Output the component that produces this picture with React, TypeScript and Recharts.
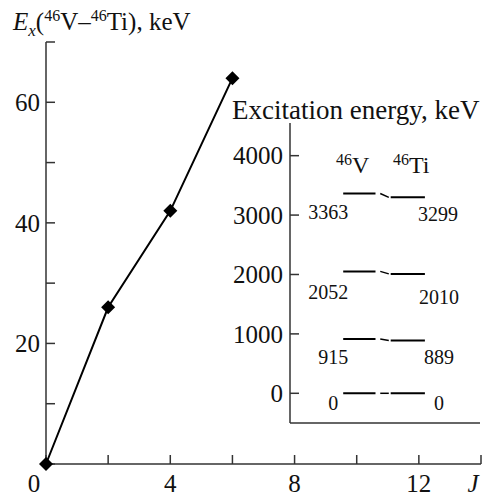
import React from "react";
import { LineChart, Line, XAxis, YAxis } from "recharts";

// spin J and the 46V - 46Ti energy difference (keV)
const spins = [0, 2, 4, 6];
const deltaE = [0, 26, 42, 64];

// excitation energies of the analogue levels (keV)
const levelsV = [0, 915, 2052, 3363];
const levelsTi = [0, 889, 2010, 3299];

const xTicks = [0, 2, 4, 6, 8, 10, 12, 14];
const yTicks = [0, 10, 20, 30, 40, 50, 60, 70];
const insetTicks = [0, 1000, 2000, 3000, 4000];

const FONT = "'Liberation Serif', 'Times New Roman', serif";
const AXIS = "#333";
const txt = { fontFamily: FONT, fill: "#111" };

const mainData = spins.map((j, i) => ({ j, e: deltaE[i] }));

// horizontal placement of the level bars in inset x units
const V_SPAN = [2.8, 4.5];
const LINK_SPAN = [4.75, 5.2];
const TI_SPAN = [5.3, 7.1];
// label offsets under each level (px)
const V_LABEL_DX = [-10, -10, -15, -15];
const V_LABEL_DY = [10, 18, 21, 18];
const TI_LABEL_DX = [14, 14, 14, 13];
const TI_LABEL_DY = [10, 17, 23, 17];

const renderJTick = (props: any) => {
  const { x, y, payload } = props;
  const v = payload.value;
  if (v === 14) {
    return (
      <text x={x - 8} y={y} dy="0.71em" textAnchor="middle" fontSize={25} fontStyle="italic" style={txt}>
        J
      </text>
    );
  }
  if (v % 4 !== 0) return <g />;
  return (
    <text x={v === 0 ? x - 12 : x} y={y} dy="0.71em" textAnchor="middle" fontSize={25} style={txt}>
      {v}
    </text>
  );
};

const renderETick = (props: any) => {
  const { x, y, payload } = props;
  const v = payload.value;
  if (v === 0 || v % 20 !== 0) return <g />;
  return (
    <text x={x} y={y} dy="0.35em" textAnchor="end" fontSize={25} style={txt}>
      {v}
    </text>
  );
};

const renderInsetTick = (props: any) => {
  const { x, y, payload } = props;
  return (
    <text x={x} y={y} dy="0.35em" textAnchor="end" fontSize={25} style={txt}>
      {payload.value}
    </text>
  );
};

const renderDiamond = (props: any) => {
  const { cx, cy, index } = props;
  const r = 7;
  return (
    <path
      key={`d${index}`}
      d={`M${cx},${cy - r}L${cx + r},${cy}L${cx},${cy + r}L${cx - r},${cy}Z`}
      fill="#000"
    />
  );
};

const levelLabel = (which: "v" | "ti", level: number) => (props: any) => {
  const { x, y, index, value } = props;
  const first = which === "v";
  if ((first && index !== 0) || (!first && index !== 1)) return <g />;
  const dx = first ? V_LABEL_DX[level] : TI_LABEL_DX[level];
  const dy = first ? V_LABEL_DY[level] : TI_LABEL_DY[level];
  return (
    <text x={x + dx} y={y + dy} dy="0.35em" textAnchor="middle" fontSize={20} style={txt}>
      {value}
    </text>
  );
};

export default function App() {
  return (
    <div style={{ position: "absolute", left: 0, top: 0, width: 486, height: 497, background: "#fff", fontFamily: FONT }}>
      <div style={{ position: "absolute", left: 0, top: 0 }}>
        <LineChart width={486} height={497} data={mainData} margin={{ top: 42, right: 5, bottom: 3, left: 6 }}>
          <XAxis
            dataKey="j"
            type="number"
            domain={[0, 14]}
            ticks={xTicks}
            interval={0}
            height={30}
            tickSize={-9}
            tickMargin={19}
            axisLine={{ stroke: AXIS, strokeWidth: 1.5 }}
            tickLine={{ stroke: AXIS, strokeWidth: 1.5 }}
            tick={renderJTick}
          />
          <YAxis
            type="number"
            domain={[0, 70]}
            ticks={yTicks}
            interval={0}
            width={40}
            tickSize={-9}
            tickMargin={15}
            axisLine={{ stroke: AXIS, strokeWidth: 1.5 }}
            tickLine={{ stroke: AXIS, strokeWidth: 1.5 }}
            tick={renderETick}
          />
          <Line
            dataKey="e"
            type="linear"
            stroke="#000"
            strokeWidth={2}
            dot={renderDiamond}
            activeDot={false}
            isAnimationActive={false}
          />
          <text x={13} y={30} fontSize={25} style={txt}>
            <tspan fontStyle="italic">E</tspan>
            <tspan fontStyle="italic" fontSize={17} dy={6}>x</tspan>
            <tspan dy={-6}>(</tspan>
            <tspan fontSize={16} dy={-9}>46</tspan>
            <tspan dy={9}>V–</tspan>
            <tspan fontSize={16} dy={-9}>46</tspan>
            <tspan dy={9}>Ti), keV</tspan>
          </text>
        </LineChart>
      </div>
      <div style={{ position: "absolute", left: 0, top: 0 }}>
        <LineChart width={486} height={497} margin={{ top: 123, right: 6, bottom: 44, left: 230 }}>
          <XAxis
            dataKey="x"
            type="number"
            domain={[0, 10]}
            height={30}
            tick={false}
            tickLine={false}
            axisLine={{ stroke: AXIS, strokeWidth: 1.5 }}
          />
          <YAxis
            type="number"
            domain={[-500, 4550]}
            ticks={insetTicks}
            interval={0}
            width={60}
            tickSize={-9}
            tickMargin={16}
            axisLine={{ stroke: AXIS, strokeWidth: 1.5 }}
            tickLine={{ stroke: AXIS, strokeWidth: 1.5 }}
            tick={renderInsetTick}
          />
          {levelsV.map((ev, i) => {
            const et = levelsTi[i];
            return (
              <React.Fragment key={`lvl${i}`}>
                <Line
                  data={[{ x: V_SPAN[0], y: ev }, { x: V_SPAN[1], y: ev }]}
                  dataKey="y"
                  stroke="#000"
                  strokeWidth={2}
                  dot={false}
                  activeDot={false}
                  label={levelLabel("v", i)}
                  isAnimationActive={false}
                />
                <Line
                  data={[{ x: LINK_SPAN[0], y: ev }, { x: LINK_SPAN[1], y: et }]}
                  dataKey="y"
                  stroke="#000"
                  strokeWidth={1.5}
                  dot={false}
                  activeDot={false}
                  isAnimationActive={false}
                />
                <Line
                  data={[{ x: TI_SPAN[0], y: et }, { x: TI_SPAN[1], y: et }]}
                  dataKey="y"
                  stroke="#000"
                  strokeWidth={2}
                  dot={false}
                  activeDot={false}
                  label={levelLabel("ti", i)}
                  isAnimationActive={false}
                />
              </React.Fragment>
            );
          })}
          <text x={232} y={119} fontSize={27} style={txt}>
            Excitation energy, keV
          </text>
          <text x={336} y={173} fontSize={24} style={txt}>
            <tspan fontSize={16} dy={-8}>46</tspan>
            <tspan dy={8}>V</tspan>
          </text>
          <text x={393} y={173} fontSize={24} style={txt}>
            <tspan fontSize={16} dy={-8}>46</tspan>
            <tspan dy={8}>Ti</tspan>
          </text>
        </LineChart>
      </div>
    </div>
  );
}
